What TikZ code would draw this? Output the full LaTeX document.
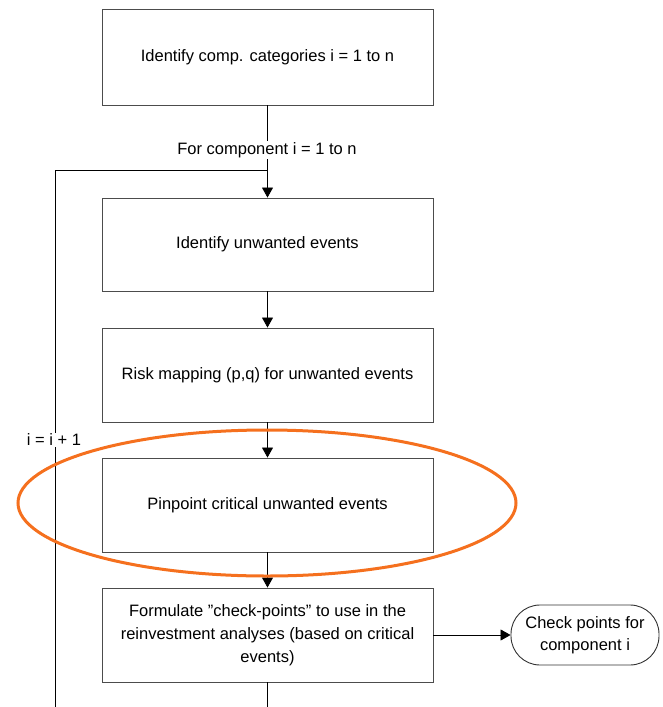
\documentclass[tikz,border=0pt]{standalone}
\usepackage{fontspec}
\setmainfont{Liberation Sans}
\usetikzlibrary{arrows.meta}
\definecolor{hilite}{RGB}{245,112,30}
\begin{document}
\begin{tikzpicture}[x=1pt,y=-1pt,
  box/.style={draw=black!70, line width=0.9pt, minimum width=331pt, minimum height=94pt,
    font=\fontsize{16.5}{23}\selectfont, align=center, inner sep=0pt},
  term/.style={draw=black!80, line width=0.9pt, minimum width=148pt, minimum height=60pt,
    rounded corners=29pt, font=\fontsize{16.5}{22}\selectfont, align=center, inner sep=0pt},
  conn/.style={black, line width=0.8pt},
  arr/.style={conn, -{Triangle[length=10pt,width=11pt]}},
  lbl/.style={fill=white, inner sep=1.5pt, font=\fontsize{16.5}{19}\selectfont}]
\useasboundingbox (0,0) rectangle (662,707);

\node[box, minimum height=96pt] (b1) at (267.5,57) {Identify comp. categories i = 1 to n};
\node[box, minimum height=93pt] (b2) at (267.5,244.5) {Identify unwanted events};
\node[box] (b3) at (267.5,375) {Risk mapping (p,q) for unwanted events};
\node[box] (b4) at (267.5,505) {Pinpoint critical unwanted events};
\node[box] (b5) at (267.5,635) {Formulate ”check-points” to use in the\\reinvestment analyses (based on critical\\events)};
\node[term] (cp) at (585,635) {Check points for\\component i};

\coordinate (j) at (267.5,170);
\coordinate (lb) at (55,707);
\coordinate (bb) at (267.5,707);

\draw[conn] (lb) |- (j);
\draw[arr] (b1.south) -- (b2.north);
\draw[arr] (b2) -- (b3);
\draw[arr] (b3) -- (b4);
\draw[arr] (b4) -- (b5);
\draw[arr] (b5) -- (cp);
\draw[conn] (b5.south) -- (bb);

\node[lbl] (l1) at (267,150) {For component i = 1 to n};
\node[lbl] (l2) at (54,440) {i = i + 1};

\draw[hilite, line width=3pt] (267,503) ellipse [x radius=249pt, y radius=73pt];
\end{tikzpicture}
\end{document}
